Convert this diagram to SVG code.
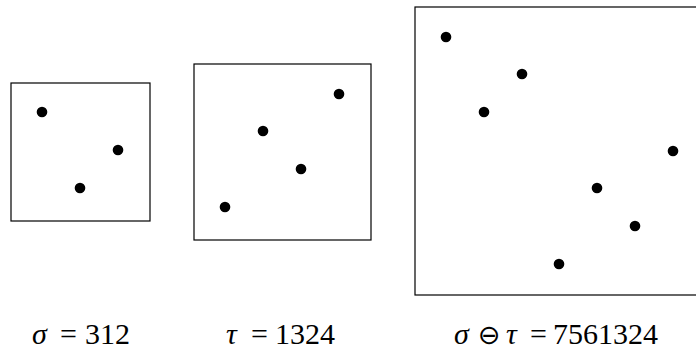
<svg xmlns="http://www.w3.org/2000/svg" width="696" height="349" viewBox="0 0 696 349">
<style>
.box{fill:#fff;stroke:#000;stroke-width:1.2}
.pt{fill:#000}
.lbl{font-size:30px;fill:#000}
.it{font-style:italic}
.op{font-size:27px}
</style>
<rect width="696" height="349" fill="#fff"/>
<g id="sigma">
<rect class="box" x="11" y="83" width="139" height="138"/>
<circle class="pt" cx="42" cy="112" r="5.3"/>
<circle class="pt" cx="118" cy="150" r="5.3"/>
<circle class="pt" cx="80" cy="188" r="5.3"/>
</g>
<g id="tau">
<rect class="box" x="194" y="64" width="177" height="176"/>
<circle class="pt" cx="225" cy="207" r="5.3"/>
<circle class="pt" cx="263" cy="131" r="5.3"/>
<circle class="pt" cx="301" cy="169" r="5.3"/>
<circle class="pt" cx="339" cy="94" r="5.3"/>
</g>
<g id="sum">
<rect class="box" x="415" y="7" width="291" height="288"/>
<circle class="pt" cx="446" cy="37" r="5.3"/>
<circle class="pt" cx="484" cy="112" r="5.3"/>
<circle class="pt" cx="522" cy="74" r="5.3"/>
<circle class="pt" cx="559" cy="264" r="5.3"/>
<circle class="pt" cx="597" cy="188" r="5.3"/>
<circle class="pt" cx="635" cy="226" r="5.3"/>
<circle class="pt" cx="673" cy="151" r="5.3"/>
</g>
<g id="connectors"></g>
<g id="labels" font-family="'Liberation Serif', 'DejaVu Serif', serif">
<text class="lbl" y="344"><tspan class="it" x="32">σ</tspan><tspan x="60">=</tspan><tspan x="85">312</tspan></text>
<text class="lbl" y="344"><tspan class="it" x="226">τ</tspan><tspan x="251">=</tspan><tspan x="275">1324</tspan></text>
<text class="lbl" y="344"><tspan class="it" x="454">σ</tspan><tspan class="op" x="478" font-family="'DejaVu Sans', sans-serif">⊖</tspan><tspan class="it" x="506">τ</tspan><tspan x="530">=</tspan><tspan x="553">7561324</tspan></text>
</g>
</svg>
